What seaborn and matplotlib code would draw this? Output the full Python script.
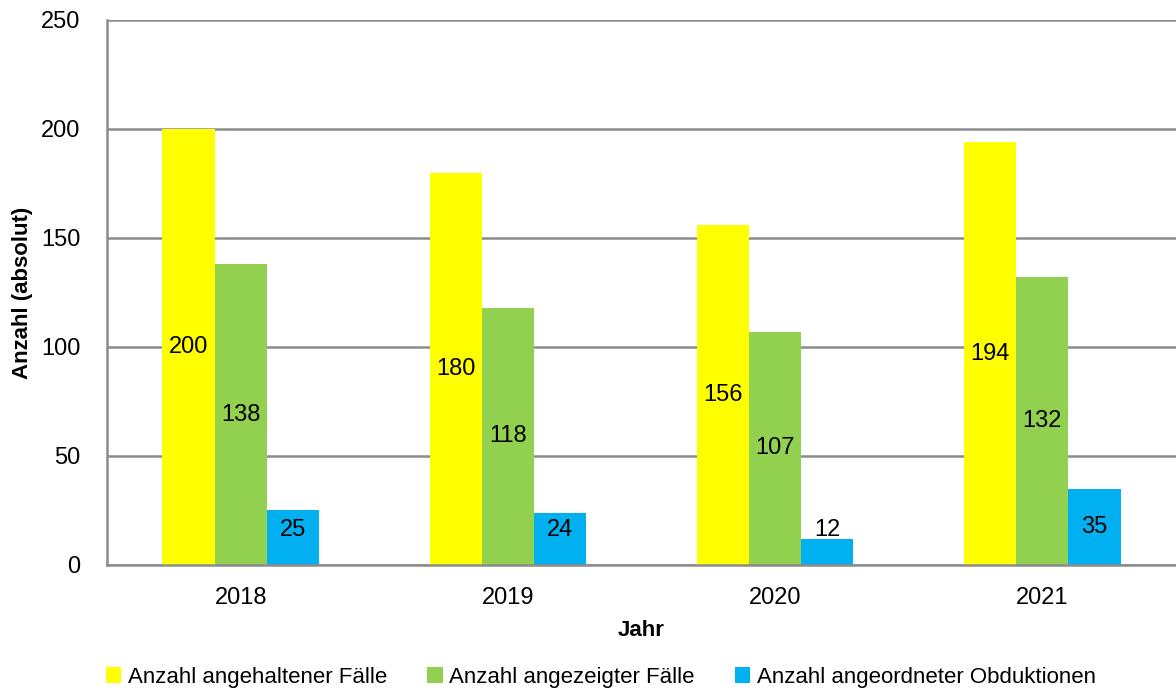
import matplotlib

matplotlib.use("Agg")
import matplotlib.pyplot as plt
import pandas as pd
import seaborn as sns

years = ["2018", "2019", "2020", "2021"]
series = [
    "Anzahl angehaltener Fälle",
    "Anzahl angezeigter Fälle",
    "Anzahl angeordneter Obduktionen",
]
angehalten = [200, 180, 156, 194]
angezeigt = [138, 118, 107, 132]
obduktionen = [25, 24, 12, 35]
colors = ["#FFFF00", "#92D050", "#00B0F0"]

df = pd.DataFrame({
    "Jahr": years * 3,
    "Serie": [series[0]] * 4 + [series[1]] * 4 + [series[2]] * 4,
    "Wert": angehalten + angezeigt + obduktionen,
})

sns.set_theme(style="white")
plt.rcParams["font.family"] = ["Liberation Sans", "DejaVu Sans"]
plt.rcParams["text.color"] = "black"

fig = plt.figure(figsize=(11.76, 6.89), dpi=100)
ax = fig.add_axes([0.091, 0.180, 0.909, 0.791])

sns.barplot(
    data=df, x="Jahr", y="Wert", hue="Serie", hue_order=series,
    palette=colors, width=0.585, saturation=1, linewidth=0, ax=ax, legend=True,
)

ax.set_ylim(0, 250)
ax.set_xlim(-0.5, 3.5)
ax.set_yticks(range(0, 251, 50))
ax.yaxis.grid(True, color="#8c8c8c", linewidth=1.8)
ax.set_axisbelow(True)
for side in ["top", "right"]:
    ax.spines[side].set_visible(False)
for side in ["left", "bottom"]:
    ax.spines[side].set_color("#8c8c8c")
    ax.spines[side].set_linewidth(1.8)
ax.tick_params(axis="both", length=0, labelsize=17, colors="black")
ax.tick_params(axis="y", pad=19)
ax.tick_params(axis="x", pad=16)

# value labels in the middle of each bar, small bars get lifted a bit
for cont in ax.containers:
    for bar in cont:
        h = bar.get_height()
        ax.text(
            bar.get_x() + bar.get_width() / 2, max(h / 2, 16), f"{h:.0f}",
            ha="center", va="center", fontsize=17, color="black",
        )

ax.set_xlabel("Jahr", fontsize=16, fontweight="bold", labelpad=8, color="black")
ax.set_ylabel("Anzahl (absolut)", fontsize=16, fontweight="bold", labelpad=6, color="black")

handles, labels = ax.get_legend_handles_labels()
leg = ax.legend(
    handles, labels, loc="lower center", bbox_to_anchor=(0.462, -0.262),
    ncol=3, frameon=False, fontsize=16, handlelength=0.7, handleheight=0.7,
    handletextpad=0.3, columnspacing=1.8,
)
for t in leg.get_texts():
    t.set_color("black")

fig.savefig("out.png", dpi=100)
